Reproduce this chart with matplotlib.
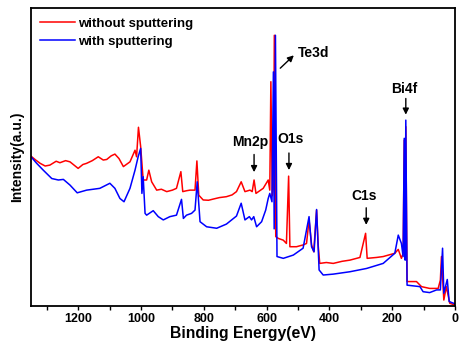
import numpy as np
import matplotlib
matplotlib.use('Agg')
import matplotlib.pyplot as plt
from matplotlib.ticker import MultipleLocator

plt.rcParams['font.family'] = ['Liberation Sans', 'DejaVu Sans']
plt.rcParams['font.weight'] = 'bold'

# without sputtering (red)
red_ev = [1350, 1335, 1321, 1305, 1290, 1270, 1258, 1240, 1226, 1200, 1185, 1173, 1155, 1136, 1120,
          1109, 1095, 1083, 1070, 1056, 1035, 1019, 1014, 1008,
          1001, 993, 982, 975, 966, 950, 935, 918, 900, 887, 873, 867, 855, 844, 828, 822, 816, 802,
          785, 770, 750, 728, 710, 696, 681, 669, 653, 646, 640, 634, 611, 595, 590, 586.5, 582, 578,
          575.5, 571, 563, 547, 537, 530, 526, 505, 484, 473, 465, 457, 450, 441, 436, 431, 410, 388,
          360, 335, 303, 285, 280, 250, 229, 192, 181, 171, 165.5, 162, 159, 157, 153, 123, 107, 81,
          54, 47, 43.5, 36, 28, 17, 0]
red_int = [50.3, 49.0, 47.9, 47.0, 47.3, 48.6, 48.1, 48.8, 48.4, 46.2, 47.5, 47.9, 48.8, 50.1, 49.0,
           49.2, 50.4, 51.0, 49.5, 46.8, 48.4, 52.3, 50.1, 60.0,
           53.5, 42.3, 42.3, 45.6, 41.7, 38.9, 39.2, 38.4, 38.9, 39.5, 45.1, 38.4, 38.7, 38.9, 38.9,
           48.7, 37.2, 35.6, 35.5, 35.9, 36.4, 36.7, 37.3, 38.4, 41.7, 38.4, 38.9, 38.4, 42.3, 37.8,
           39.5, 42.3, 38.9, 75.3, 37.0, 40.0, 90.9, 23.3, 22.7, 22.1, 21.0, 43.6, 19.9, 19.9, 20.5,
           21.0, 28.9, 20.5, 18.2, 32.2, 20.5, 14.3, 14.6, 14.3, 15.0, 15.4, 16.3, 24.4, 16.0, 16.3,
           16.6, 17.7, 19.0, 16.0, 17.7, 55.7, 16.6, 60.2, 8.2, 8.2, 6.5, 5.9, 5.9, 8.7, 16.6, 2.0,
           6.5, 0.9, 0.3]

# with sputtering (blue)
blue_ev = [1350, 1332, 1311, 1284, 1263, 1247, 1226, 1203, 1173, 1131, 1099, 1083, 1067, 1054, 1035,
           1019, 1009, 1001, 997, 993, 987, 982, 961, 945, 929, 908, 887, 871, 865, 855, 839, 828,
           821, 812, 791, 759, 728, 696, 681, 669, 655, 648, 641, 632, 616, 603, 595, 590, 583,
           578.5, 576, 572, 567, 547, 515, 484, 465, 457, 449, 441, 433, 420, 388, 335, 282, 229,
           192, 181, 171, 165.5, 162, 159, 157, 153, 112, 102, 81, 59, 47, 40, 36, 25, 19, 0]
blue_int = [50.1, 47.9, 45.6, 42.8, 42.3, 42.5, 40.6, 38.0, 38.9, 39.5, 41.2, 39.5, 36.1, 35.0, 39.5,
            45.6, 50.1, 52.9, 37.8, 43.4, 31.1, 30.5, 32.0, 30.0, 28.9, 30.0, 30.5, 35.8, 29.4, 30.5,
            31.1, 32.2, 41.7, 28.3, 26.6, 26.1, 27.5, 30.2, 34.5, 28.9, 30.0, 28.9, 30.0, 26.6, 28.3,
            32.2, 36.1, 37.8, 35.0, 78.6, 25.9, 90.9, 16.6, 16.0, 17.1, 19.4, 30.0, 19.9, 18.2, 32.4,
            12.1, 10.4, 10.7, 11.5, 12.6, 14.3, 17.7, 23.8, 21.0, 16.6, 56.3, 15.4, 62.4, 7.0, 6.5,
            4.8, 4.5, 5.4, 5.4, 19.4, 4.3, 8.9, 1.5, 0.7]

fig = plt.figure(figsize=(4.63, 3.54), dpi=100)
ax = fig.add_axes([0.067, 0.1356, 0.916, 0.8414])

ax.plot(red_ev, red_int, color='#ff0000', lw=1.1, label='without sputtering')
ax.plot(blue_ev, blue_int, color='#0000ff', lw=1.1, label='with sputtering')

ax.set_xlim(1350, 0)
ax.set_ylim(0, 100)
ax.xaxis.set_major_locator(MultipleLocator(200))
ax.xaxis.set_minor_locator(MultipleLocator(100))
ax.tick_params(axis='x', which='both', direction='out', length=3, width=1, labelsize=9, pad=2)
ax.set_yticks([])
for s in ax.spines.values():
    s.set_linewidth(1.3)

ax.set_xlabel('Binding Energy(eV)', fontsize=11.3, fontweight='bold', labelpad=1)
ax.set_ylabel('Intensity(a.u.)', fontsize=10, fontweight='bold', labelpad=5)

ap = dict(arrowstyle='-|>', color='black', lw=1.0, mutation_scale=9)
ax.annotate('', xy=(507, 84.8), xytext=(563, 79.2), arrowprops=ap)
ax.text(500, 85, 'Te3d', fontsize=10, fontweight='bold', ha='left', va='center')
ax.annotate('', xy=(640, 44.0), xytext=(640, 51.8), arrowprops=ap)
ax.text(653, 55.1, 'Mn2p', fontsize=10, fontweight='bold', ha='center', va='center')
ax.annotate('', xy=(529, 44.7), xytext=(529, 52.3), arrowprops=ap)
ax.text(524, 55.9, 'O1s', fontsize=10, fontweight='bold', ha='center', va='center')
ax.annotate('', xy=(283, 26.3), xytext=(283, 33.9), arrowprops=ap)
ax.text(290, 36.9, 'C1s', fontsize=10, fontweight='bold', ha='center', va='center')
ax.annotate('', xy=(157, 63.3), xytext=(157, 70.6), arrowprops=ap)
ax.text(163, 73.0, 'Bi4f', fontsize=10, fontweight='bold', ha='center', va='center')

ax.legend(loc='upper left', frameon=False, handlelength=2.6, handletextpad=0.3,
          labelspacing=0.45, borderaxespad=0.3, prop={'weight': 'bold', 'size': 9.5})

fig.savefig('out.png', dpi=100)
